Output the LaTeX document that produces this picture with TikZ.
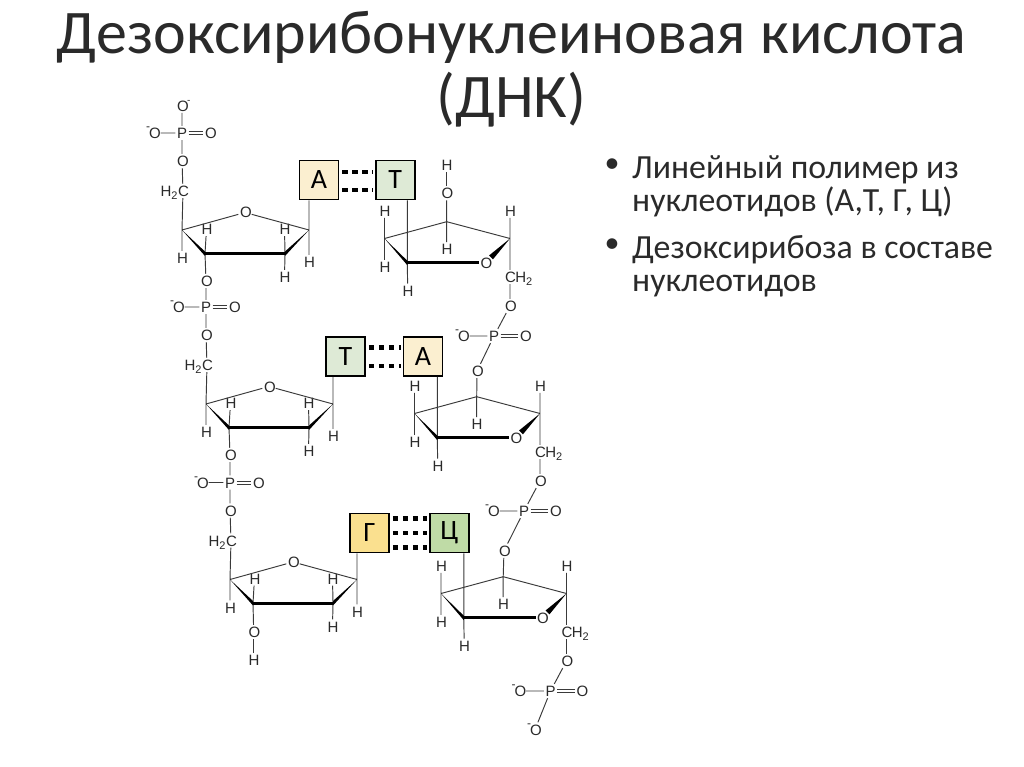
\documentclass[tikz,border=0pt]{standalone}
\usepackage{fontspec}
\setmainfont{Carlito}
\newfontfamily\chemfont{Liberation Sans}
\usetikzlibrary{calc}
\definecolor{bondc}{HTML}{3A3A3A}
\definecolor{atomc}{HTML}{2A2A2A}
\definecolor{adeC}{HTML}{FBEFD0}
\definecolor{thyC}{HTML}{DEEAD6}
\definecolor{guaC}{HTML}{FAE08F}
\definecolor{cytC}{HTML}{BFDBA6}
\definecolor{textC}{HTML}{2A2A2A}
\tikzset{
  x=1pt,y=-1pt,
  atom/.style={font=\chemfont\fontsize{15}{15}\selectfont,text=atomc,inner sep=1.5pt,text height=11pt,text depth=0pt,text width=10pt,align=center},
  chargeL/.style={label={[font=\chemfont\fontsize{12}{12}\selectfont,text=atomc,inner sep=0pt,label distance=-3.5pt]150:-}},
  chargeT/.style={label={[font=\chemfont\fontsize{10}{10}\selectfont,text=atomc,inner sep=0pt,label distance=-2pt]25:-}},
  hleft/.style={label={[atom,text width=,inner sep=0pt,xshift=1.5pt]left:H\raisebox{-3pt}{\fontsize{11}{11}\selectfont 2}}},
  hright/.style={label={[atom,text width=,inner sep=0pt,xshift=-1.5pt]right:H\raisebox{-3pt}{\fontsize{11}{11}\selectfont 2}}},
  bond/.style={draw=bondc,line width=0.95pt},
  dbl/.style={draw=bondc,line width=0.8pt},
  thick bond/.style={draw=black,line width=3pt},
  wedge/.style={fill=black,draw=none},
  base/.style={draw=black,line width=1.9pt,minimum size=39pt,inner sep=0pt,font=\fontsize{28}{28}\selectfont,text=black},
  hbond/.style={draw=black,line width=4.4pt,dash pattern=on 5.5pt off 4.5pt,shorten >=2pt,shorten <=3pt},
  title/.style={font=\fontsize{62}{64}\selectfont,text=textC,inner sep=0pt,align=center},
  bullet/.style={font=\fontsize{33.8}{33}\selectfont,text=textC,inner sep=0pt,align=left,anchor=north west},
  bulletmark/.style={inner sep=0pt,font=\fontsize{30}{30}\selectfont,text=textC},
}
% #1 prefix, #2 dx, #3 dy, #4 base box, #5 upper oxygen, #6 lower oxygen
\newcommand\leftsugar[6]{%
\begin{scope}[shift={(#2,#3)}]
  \node[atom] (#1P) at (182,133) {P};
  \node[atom,chargeL] (#1OL) at (154,133) {O};
  \node[atom] (#1OR) at (210,133) {O};
  \node[atom] (#1O5) at (182,161) {O};
  \node[atom,hleft] (#1C5) at (183,191) {C};
  \node[atom] (#1Or) at (245,212.5) {O};
  \coordinate (#1a) at (182,230);
  \coordinate (#1b) at (205,253.5);
  \coordinate (#1c) at (285,253.5);
  \coordinate (#1d) at (309,230);
  \node[atom] (#1Hai) at (182,258) {H};
  \node[atom] (#1Hbu) at (206.5,229) {H};
  \node[atom] (#1Hcu) at (284.5,229) {H};
  \node[atom] (#1Hcd) at (284.5,277) {H};
  \node[atom] (#1Hd) at (309,262) {H};
  \path[bond] (#5) -- (#1P) (#1OL) -- (#1P) (#1P) -- (#1O5) (#1O5) -- (#1C5);
  \path[dbl] ([yshift=-1.6pt]#1P.east) -- ([yshift=-1.6pt]#1OR.west) ([yshift=1.6pt]#1P.east) -- ([yshift=1.6pt]#1OR.west);
  \path[bond] (#1C5) -- (#1a) (#1a) -- (#1Or) (#1Or) -- (#1d) (#1a) -- (#1Hai)
     (#1b) -- (#1Hbu) (#1b) -- (#6) (#1c) -- (#1Hcu) (#1c) -- (#1Hcd)
     (#1d) -- (#1Hd) (#1d |- #4.south) -- (#1d);
  \path[thick bond] (#1b) -- (#1c);
  \fill[wedge] (#1a) -- ([yshift=-2.5pt]#1b) -- ([yshift=2pt]#1b) -- cycle;
  \fill[wedge] (#1d) -- ([yshift=-2.5pt]#1c) -- ([yshift=2pt]#1c) -- cycle;
\end{scope}}
% #1 prefix, #2 dx, #3 dy, #4 base box, #5 upper oxygen, #6 lower oxygen
\newcommand\rightsugar[6]{%
\begin{scope}[shift={(#2,#3)}]
  \coordinate (#1a) at (384.5,238.5);
  \coordinate (#1t) at (446.7,221.7);
  \coordinate (#1d) at (510,238.5);
  \coordinate (#1b) at (407.3,262.7);
  \node[atom] (#1Or) at (485.7,262.7) {O};
  \node[atom] (#1Hau) at (384.5,210.7) {H};
  \node[atom] (#1Had) at (384.5,267) {H};
  \node[atom] (#1Hb) at (407.7,290.7) {H};
  \node[atom] (#1Ht) at (446.7,249.3) {H};
  \node[atom] (#1Hd) at (510,210.7) {H};
  \node[atom,hright] (#1C5) at (510,277) {C};
  \node[atom] (#1O5) at (510,306) {O};
  \node[atom] (#1P) at (494,336) {P};
  \node[atom,chargeL] (#1OL) at (463,336) {O};
  \node[atom] (#1OR) at (525,336) {O};
  \path[bond] (#1a) -- (#1t) (#1t) -- (#1d) (#1a) -- (#1Hau) (#1a) -- (#1Had)
     (#1b) -- (#1Hb) (#1b |- #4.south) -- (#1b) (#1t) -- (#1Ht) (#1t) -- (#5)
     (#1d) -- (#1Hd) (#1d) -- (#1C5) (#1C5) -- (#1O5) (#1O5) -- (#1P)
     (#1OL) -- (#1P) (#1P) -- (#6);
  \path[dbl] ([yshift=-1.6pt]#1P.east) -- ([yshift=-1.6pt]#1OR.west) ([yshift=1.6pt]#1P.east) -- ([yshift=1.6pt]#1OR.west);
  \draw[draw=black,line width=3pt] (#1b) -- (#1Or.west);
  \fill[wedge] (#1a) -- ([yshift=-2.5pt]#1b) -- ([yshift=2pt]#1b) -- cycle;
  \fill[wedge] (#1d) -- ($(#1Or)!8pt!20:(#1d)$) -- ($(#1Or)!8pt!-20:(#1d)$) -- cycle;
\end{scope}}
\begin{document}
\begin{tikzpicture}
\useasboundingbox (0,0) rectangle (1024,767);
\fill[white] (0,0) rectangle (1024,767);
% titles
\node[title] (heading) at (511.5,69.5) {Дезоксирибонуклеиновая кислота\\(ДНК)};
% bullets
\node[bulletmark] (b1) at (612,166) {•};
\node[bullet] (t1) at (632,155) {Линейный полимер из\\нуклеотидов (А,Т, Г, Ц)};
\node[bulletmark] (b2) at (612,246) {•};
\node[bullet] (t2) at (632,235) {Дезоксирибоза в составе\\нуклеотидов};
% bases
\node[base,fill=adeC] (A1) at (319,180) {А};
\node[base,fill=thyC] (T1) at (395.3,180) {Т};
\node[base,fill=thyC] (T2) at (345.5,356.5) {Т};
\node[base,fill=adeC] (A2) at (423,356.5) {А};
\node[base,fill=guaC] (G3) at (369.5,533) {Г};
\node[base,fill=cytC] (C3) at (449.2,533) {Ц};
% hydrogen bonds
\path[hbond] ($(A1.north east)!.3!(A1.south east)$) -- ($(T1.north west)!.3!(T1.south west)$);
\path[hbond] ($(A1.north east)!.75!(A1.south east)$) -- ($(T1.north west)!.75!(T1.south west)$);
\path[hbond] ($(T2.north east)!.28!(T2.south east)$) -- ($(A2.north west)!.28!(A2.south west)$);
\path[hbond] ($(T2.north east)!.73!(T2.south east)$) -- ($(A2.north west)!.73!(A2.south west)$);
\path[hbond] ($(G3.north east)!.15!(G3.south east)$) -- ($(C3.north west)!.15!(C3.south west)$);
\path[hbond] ($(G3.north east)!.5!(G3.south east)$) -- ($(C3.north west)!.5!(C3.south west)$);
\path[hbond] ($(G3.north east)!.85!(G3.south east)$) -- ($(C3.north west)!.85!(C3.south west)$);
% backbone oxygens shared by neighbouring units
\node[atom,chargeT] (l1o) at (182,105.7) {O};
\node[atom] (l2o) at (206,281) {O};
\node[atom] (l3o) at (230,455) {O};
\node[atom] (l4o) at (253.7,632) {O};
\node[atom] (l4h) at (253.7,660) {H};
\path[bond] (l4o) -- (l4h);
\node[atom] (r1o) at (446.7,193.3) {O};
\node[atom] (r1h) at (446.7,165) {H};
\path[bond] (r1o) -- (r1h);
\node[atom] (r2o) at (477,371) {O};
\node[atom] (r3o) at (504,550.7) {O};
\node[atom,chargeL] (r4o) at (535,729.5) {O};
% sugars
\leftsugar{l1}{0}{0}{A1}{l1o}{l2o}
\leftsugar{l2}{24}{174}{T2}{l2o}{l3o}
\leftsugar{l3}{48}{349.5}{G3}{l3o}{l4o}
\rightsugar{r1}{0}{0}{T1}{r1o}{r2o}
\rightsugar{r2}{30}{175}{A2}{r2o}{r3o}
\rightsugar{r3}{56.5}{355}{C3}{r3o}{r4o}
\end{tikzpicture}
\end{document}
